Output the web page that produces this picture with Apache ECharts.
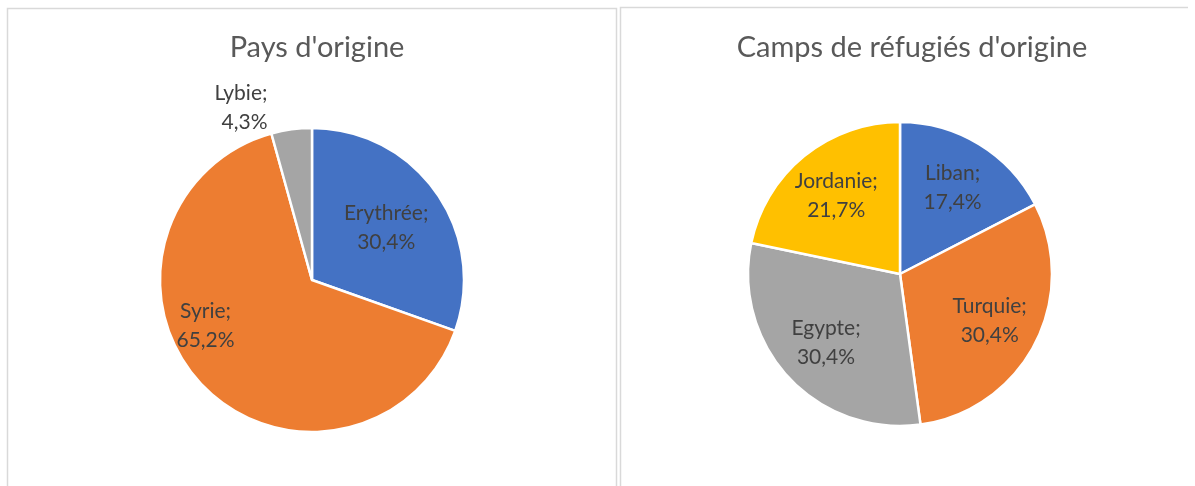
<!DOCTYPE html>
<html lang="fr">

<head>
    <meta charset="UTF-8">
    <title>Origine des réfugiés</title>
    <script src="https://cdn.jsdelivr.net/npm/echarts@6/dist/echarts.min.js"></script>
    <style>
        html, body { margin: 0; padding: 0; background: #fff; }
        #chart { width: 1195px; height: 486px; }
    </style>
</head>

<body>
    <div id="chart"></div>

    <script>
        // data (percent shown in the labels)
        var paysNoms = ['Erythrée', 'Syrie', 'Lybie'];
        var paysValeurs = [30.4, 65.2, 4.3];
        var campsNoms = ['Liban', 'Turquie', 'Egypte', 'Jordanie'];
        var campsValeurs = [17.4, 30.4, 30.4, 21.7];
        var couleurs = ['#4472C4', '#ED7D31', '#A5A5A5', '#FFC000'];

        var police = 'Lato, "Open Sans", sans-serif';
        var centres = [[312, 280], [900, 274]];
        var ecarts = [1.15, 1.28]; // push inside labels out a bit, like Excel

        var chartDom = document.getElementById('chart');
        var myChart = echarts.init(chartDom);

        function toData(noms, valeurs) {
            var d = [];
            for (var i = 0; i < noms.length; i++) {
                d.push({ name: noms[i], value: valeurs[i], itemStyle: { color: couleurs[i] } });
            }
            return d;
        }

        var paysData = toData(paysNoms, paysValeurs);
        // Lybie is too small, label sits outside
        paysData[2].label = { position: 'outside' };
        paysData[2].labelLine = { show: false };

        var labelStyle = {
            show: true,
            position: 'inside',
            color: '#404040',
            fontFamily: police,
            fontSize: 21,
            lineHeight: 29,
            formatter: function (p) {
                return p.name + ';\n' + String(p.value).replace('.', ',') + '%';
            }
        };

        function placeLabel(s) {
            return function (params) {
                var c = centres[s];
                var r = params.labelRect;
                var lx = r.x + r.width / 2;
                var ly = r.y + r.height / 2;
                if (s === 0 && params.dataIndex === 2) {
                    return { dx: 13, dy: -7 };
                }
                var x = c[0] + (lx - c[0]) * ecarts[s];
                var y = c[1] + (ly - c[1]) * ecarts[s];
                if (s === 0 && params.dataIndex === 1) {
                    x -= 40;
                    y -= 16;
                }
                return { x: x, y: y };
            };
        }

        var titreStyle = { fontFamily: police, fontSize: 29, fontWeight: 'normal', color: '#595959' };

        var option = {
            animation: false,
            title: [
                { text: "Pays d'origine", left: 312, top: 28, textAlign: 'center', textStyle: titreStyle },
                { text: "Camps de réfugiés d'origine", left: 907, top: 28, textAlign: 'center', textStyle: titreStyle }
            ],
            graphic: [
                {
                    type: 'polyline',
                    shape: { points: [[7.5, 490], [7.5, 8.5], [616.5, 8.5], [616.5, 490]] },
                    style: { stroke: '#d9d9d9', lineWidth: 1.5, fill: null }
                },
                {
                    type: 'polyline',
                    shape: { points: [[620.5, 490], [620.5, 7.5], [1188, 7.5]] },
                    style: { stroke: '#d9d9d9', lineWidth: 1.5, fill: null }
                }
            ],
            series: [
                {
                    type: 'pie',
                    center: centres[0],
                    radius: 152,
                    startAngle: 90,
                    clockwise: true,
                    itemStyle: { borderColor: '#fff', borderWidth: 2.5 },
                    label: labelStyle,
                    labelLine: { show: false },
                    labelLayout: placeLabel(0),
                    emphasis: { disabled: true },
                    data: paysData
                },
                {
                    type: 'pie',
                    center: centres[1],
                    radius: 152,
                    startAngle: 90,
                    clockwise: true,
                    itemStyle: { borderColor: '#fff', borderWidth: 2.5 },
                    label: labelStyle,
                    labelLine: { show: false },
                    labelLayout: placeLabel(1),
                    emphasis: { disabled: true },
                    data: toData(campsNoms, campsValeurs)
                }
            ]
        };

        option && myChart.setOption(option);
    </script>

</body>

</html>
